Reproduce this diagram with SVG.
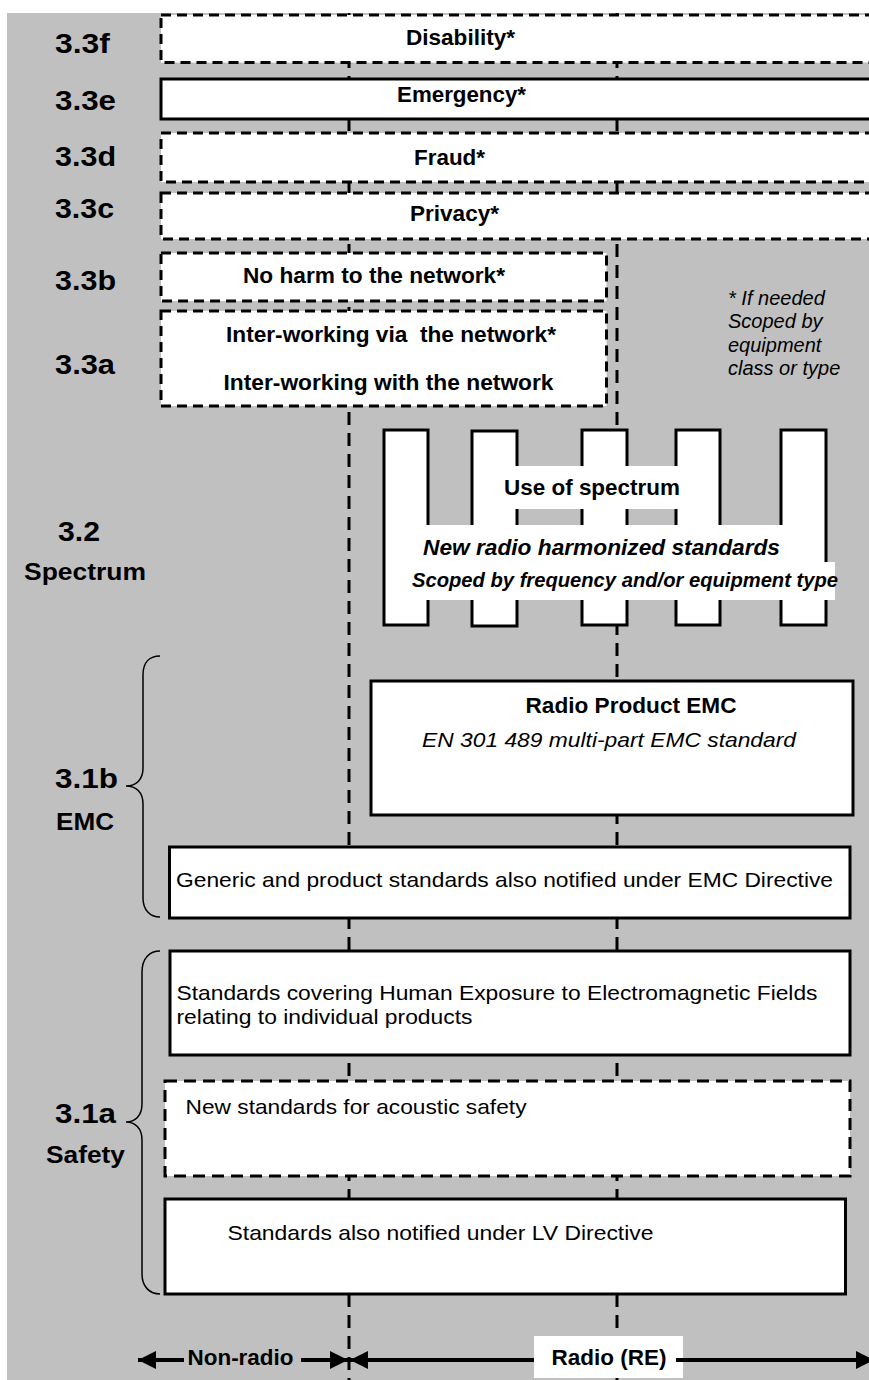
<svg xmlns="http://www.w3.org/2000/svg" width="869" height="1380" viewBox="0 0 869 1380">
<defs>
<style>
.bg{fill:#c0c0c0}
.box{fill:#fff;stroke:#000;stroke-width:3}
.dash{stroke-dasharray:10 6}
.dash2{stroke-dasharray:12 7}
.white{fill:#fff;stroke:none}
.vline{stroke:#000;stroke-width:3;stroke-dasharray:13 8;fill:none}
.brace{fill:none;stroke:#000;stroke-width:1.5}
.arr{stroke:#000;stroke-width:4;fill:none}
.t{font-family:"Liberation Sans",Arial,Helvetica,sans-serif;fill:#000}
.b{font-weight:bold}
.i{font-style:italic}
.lbl{font-size:28px;font-weight:bold}
.sub{font-size:24px;font-weight:bold}
.bt{font-size:22px;font-weight:bold}
.rt{font-size:21px}
.note{font-size:20px;font-style:italic}
</style>
<marker id="ah" viewBox="0 0 18 18" refX="18" refY="9" markerWidth="18" markerHeight="18" markerUnits="userSpaceOnUse" orient="auto">
<path d="M0,0 L18,9 L0,18 z" fill="#000"/>
</marker>
<clipPath id="clipHuman"><rect x="170" y="940" width="680" height="89"/></clipPath>
</defs>

<rect class="bg" x="7" y="13" width="870" height="1370"/>

<g id="connectors">
<line class="vline" x1="349" y1="13" x2="349" y2="1380"/>
<line class="vline" x1="617" y1="13" x2="617" y2="1380"/>
</g>

<g id="section-labels">
<text class="t lbl" x="55" y="53" textLength="55" lengthAdjust="spacingAndGlyphs">3.3f</text>
<text class="t lbl" x="55" y="110" textLength="61" lengthAdjust="spacingAndGlyphs">3.3e</text>
<text class="t lbl" x="55" y="166" textLength="61" lengthAdjust="spacingAndGlyphs">3.3d</text>
<text class="t lbl" x="55" y="218" textLength="59" lengthAdjust="spacingAndGlyphs">3.3c</text>
<text class="t lbl" x="55" y="290" textLength="61" lengthAdjust="spacingAndGlyphs">3.3b</text>
<text class="t lbl" x="55" y="374" textLength="60" lengthAdjust="spacingAndGlyphs">3.3a</text>
<text class="t lbl" x="58" y="541" textLength="42" lengthAdjust="spacingAndGlyphs">3.2</text>
<text class="t sub" x="24" y="580" textLength="122" lengthAdjust="spacingAndGlyphs">Spectrum</text>
<text class="t lbl" x="55" y="788" textLength="63" lengthAdjust="spacingAndGlyphs">3.1b</text>
<text class="t sub" x="56" y="830" textLength="58" lengthAdjust="spacingAndGlyphs">EMC</text>
<text class="t lbl" x="55" y="1123" textLength="61" lengthAdjust="spacingAndGlyphs">3.1a</text>
<text class="t sub" x="46" y="1163" textLength="79" lengthAdjust="spacingAndGlyphs">Safety</text>
</g>

<g id="brace-emc">
<path class="brace" d="M160,656 C150,656 143,662 143,675 L143,768 C143,780 136,786 126,786 C136,786 143,792 143,804 L143,898 C143,910 150,917 160,917"/>
</g>
<g id="brace-safety">
<path class="brace" d="M160,951 C150,951 142,958 142,972 L142,1104 C142,1116 135,1122 126,1122 C135,1122 142,1128 142,1140 L142,1274 C142,1287 150,1294 160,1294"/>
</g>

<g id="node-disability">
<rect class="box dash" x="161" y="15" width="719" height="47.5"/>
<text class="t bt" x="460.5" y="45" text-anchor="middle" textLength="109" lengthAdjust="spacingAndGlyphs">Disability*</text>
</g>
<g id="node-emergency">
<rect class="box" x="161" y="79" width="719" height="40"/>
<text class="t bt" x="461.5" y="102" text-anchor="middle" textLength="129" lengthAdjust="spacingAndGlyphs">Emergency*</text>
</g>
<g id="node-fraud">
<rect class="box dash" x="161" y="133" width="719" height="49"/>
<text class="t bt" x="449.5" y="165" text-anchor="middle" textLength="71" lengthAdjust="spacingAndGlyphs">Fraud*</text>
</g>
<g id="node-privacy">
<rect class="box dash" x="161" y="193" width="719" height="46"/>
<text class="t bt" x="454.5" y="221" text-anchor="middle" textLength="89" lengthAdjust="spacingAndGlyphs">Privacy*</text>
</g>
<g id="node-noharm">
<rect class="box dash" x="161" y="253" width="445.5" height="48"/>
<text class="t bt" x="374" y="283" text-anchor="middle" textLength="262" lengthAdjust="spacingAndGlyphs">No harm to the network*</text>
</g>
<g id="node-interworking">
<rect class="box dash" x="161" y="311" width="445.5" height="95"/>
<text class="t bt" x="391" y="342" text-anchor="middle" textLength="330" lengthAdjust="spacingAndGlyphs" xml:space="preserve">Inter-working via  the network*</text>
<text class="t bt" x="388.5" y="390" text-anchor="middle" textLength="330" lengthAdjust="spacingAndGlyphs">Inter-working with the network</text>
</g>

<g id="note">
<text class="t note" x="728" y="305">* If needed</text>
<text class="t note" x="728" y="328">Scoped by</text>
<text class="t note" x="728" y="352">equipment</text>
<text class="t note" x="728" y="375">class or type</text>
</g>

<g id="node-spectrum">
<rect class="box" x="384" y="430" width="44" height="195"/>
<rect class="box" x="472" y="431" width="45" height="195"/>
<rect class="box" x="582" y="430" width="45" height="195"/>
<rect class="box" x="676" y="430" width="44" height="195"/>
<rect class="box" x="781" y="430" width="45" height="195"/>
<rect class="white" x="514" y="466" width="165" height="43"/>
<rect class="white" x="426" y="525" width="358" height="75"/>
<rect class="white" x="426" y="562" width="409" height="38"/>
<text class="t bt" x="592" y="495" text-anchor="middle" textLength="176" lengthAdjust="spacingAndGlyphs">Use of spectrum</text>
<text class="t bt i" x="601.5" y="555" text-anchor="middle" textLength="357" lengthAdjust="spacingAndGlyphs">New radio harmonized standards</text>
<text class="t b i" x="625" y="587" text-anchor="middle" font-size="20" textLength="426" lengthAdjust="spacingAndGlyphs">Scoped by frequency and/or equipment type</text>
</g>

<g id="node-radio-emc">
<rect class="box" x="371" y="681" width="482" height="134"/>
<text class="t bt" x="631" y="713" text-anchor="middle" textLength="211" lengthAdjust="spacingAndGlyphs">Radio Product EMC</text>
<text class="t rt i" x="609" y="747" text-anchor="middle" textLength="374" lengthAdjust="spacingAndGlyphs">EN 301 489 multi-part EMC standard</text>
</g>
<g id="node-generic-emc">
<rect class="box" x="169.5" y="847" width="680.5" height="71"/>
<text class="t rt" x="176" y="887" textLength="657" lengthAdjust="spacingAndGlyphs">Generic and product standards also notified under EMC Directive</text>
</g>

<g id="node-human-exposure">
<rect class="box" x="170" y="951" width="680" height="104"/>
<g clip-path="url(#clipHuman)">
<text class="t rt" x="176.5" y="1000" textLength="641" lengthAdjust="spacingAndGlyphs">Standards covering Human Exposure to Electromagnetic Fields</text>
<text class="t rt" x="176.5" y="1023.5" textLength="296" lengthAdjust="spacingAndGlyphs">relating to individual products</text>
</g>
</g>
<g id="node-acoustic">
<rect class="box dash2" x="165" y="1081" width="685" height="95"/>
<text class="t rt" x="185.5" y="1113.5" textLength="341" lengthAdjust="spacingAndGlyphs">New standards for acoustic safety</text>
</g>
<g id="node-lv">
<rect class="box" x="165" y="1199" width="680.5" height="95"/>
<text class="t rt" x="227.5" y="1240" textLength="426" lengthAdjust="spacingAndGlyphs">Standards also notified under LV Directive</text>
</g>

<g id="axis-labels">
<text class="t bt" x="187.5" y="1365" textLength="106" lengthAdjust="spacingAndGlyphs">Non-radio</text>
<rect class="white" x="534" y="1336" width="149" height="42"/>
<text class="t bt" x="551.5" y="1365" textLength="115" lengthAdjust="spacingAndGlyphs">Radio (RE)</text>
</g>

<g id="axis-arrows">
<line class="arr" x1="184" y1="1360" x2="138" y2="1360" marker-end="url(#ah)"/>
<line class="arr" x1="301" y1="1360" x2="348" y2="1360" marker-end="url(#ah)"/>
<line class="arr" x1="534" y1="1360" x2="350" y2="1360" marker-end="url(#ah)"/>
<line class="arr" x1="676" y1="1360" x2="874" y2="1360" marker-end="url(#ah)"/>
</g>
</svg>
